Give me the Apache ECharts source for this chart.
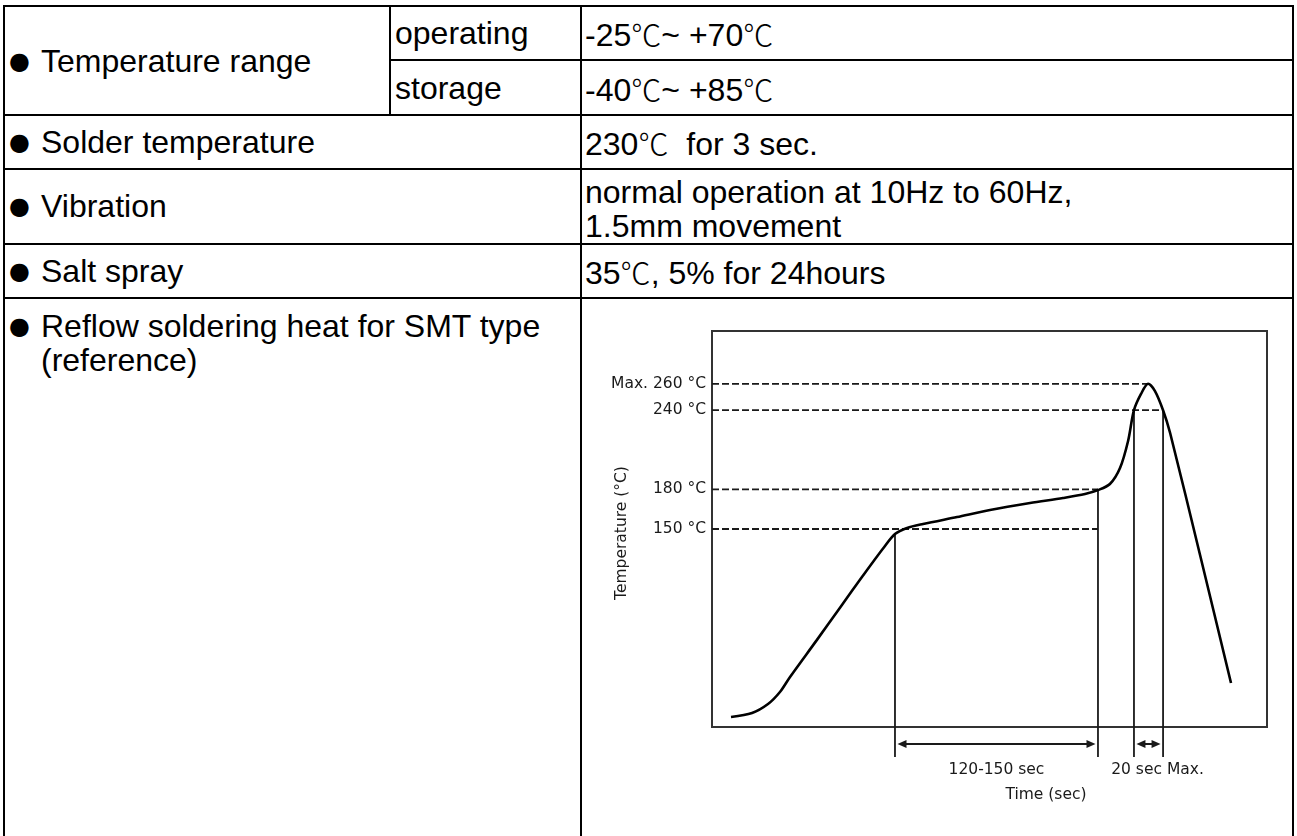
<!DOCTYPE html>
<html>
<head>
<meta charset="utf-8">
<script src="https://cdn.jsdelivr.net/npm/echarts@6.0.0/dist/echarts.min.js"></script>
<style>
html, body { margin: 0; padding: 0; background: #fff; }
#page { position: relative; width: 1297px; height: 836px; overflow: hidden; background: #fff; }
.hl { position: absolute; height: 2px; background: #000; }
.vl { position: absolute; width: 2px; background: #000; }
.t { position: absolute; font-family: "Liberation Sans", Arial, sans-serif; font-size: 32px; line-height: 34px; color: #000; white-space: pre; }
.b { position: absolute; font-family: "DejaVu Sans", sans-serif; font-size: 24px; line-height: 34px; color: #000; }
.cjk { font-family: "Noto Sans CJK SC", sans-serif; font-weight: 300; font-size: 0.94em; }
#chart { position: absolute; left: 0; top: 0; width: 1297px; height: 836px; }
</style>
</head>
<body>
<div id="page"><div id="chart"></div></div>
<script>
// ---------- table content ----------
const rowLabels = ['Temperature range', 'Solder temperature', 'Vibration', 'Salt spray', 'Reflow soldering heat for SMT type'];
const tempSubLabels = ['operating', 'storage'];
const tempRanges = ['-25℃~ +70℃', '-40℃~ +85℃'];
const solderSpec = ['230℃  for 3 sec.'];
const vibrationSpec = ['normal operation at 10Hz to 60Hz,', '1.5mm movement'];
const saltSpec = ['35℃, 5% for 24hours'];
const reflowNote = '(reference)';

// ---------- chart data ----------
const profileTime = [11.3, 23.8, 33.3, 40.4, 46.4, 62.4, 76.1, 89.8, 101.7, 108.8, 116, 125.5, 145.7, 165.3, 189.1, 208.7, 221.8, 229.5, 236.6, 242.6, 247.4, 250.9, 255.1, 259.3, 263.4, 268.2, 272.4, 290.2, 308.6];
const profileTemp = [7.6, 10.6, 17.4, 26.5, 37.9, 66.0, 90.4, 114.7, 135.2, 146.2, 150.8, 153.8, 159.1, 164.4, 169.7, 173.5, 176.5, 179.5, 184.1, 196.2, 216.7, 240, 252.3, 260, 254.5, 240, 222.7, 130.3, 33.3];
const levelTemps = [260, 240, 180, 150];
const levelLabels = ['Max. 260 °C', '240 °C', '180 °C', '150 °C'];
const levelEndTimes = [259.3, 268.2, 229.5, 229.5];
const markerTimes = [108.8, 229.5, 250.9, 268.2];
const markerTopTemps = [147, 179.5, 240, 240];
const spanStarts = [108.8, 250.9];
const spanEnds = [229.5, 268.2];
const spanLabels = ['120-150 sec', '20 sec Max.'];
const xAxisTitle = 'Time (sec)';
const yAxisTitle = 'Temperature (°C)';
const xMin = 0, xMax = 330, yMin = 0, yMax = 300;

// ---------- table layout ----------
const page = document.getElementById('page');
function esc(s) { return s.replace(/&/g, '&amp;').replace(/</g, '&lt;'); }
function addText(txt, left, cy, cls) {
  const d = document.createElement('div');
  d.className = cls || 't';
  d.style.left = left + 'px';
  d.style.top = (cy - 17) + 'px';
  d.innerHTML = esc(txt).replace(/℃/g, '<span class="cjk">℃</span>');
  page.insertBefore(d, page.firstChild);
}
function hLine(y, x1, x2) {
  const d = document.createElement('div'); d.className = 'hl';
  d.style.top = (y - 1) + 'px'; d.style.left = (x1 - 1) + 'px'; d.style.width = (x2 - x1 + 2) + 'px';
  page.insertBefore(d, page.firstChild);
}
function vLine(x, y1, y2) {
  const d = document.createElement('div'); d.className = 'vl';
  d.style.left = (x - 1) + 'px'; d.style.top = (y1 - 1) + 'px'; d.style.height = (y2 - y1 + 2) + 'px';
  page.insertBefore(d, page.firstChild);
}
const X0 = 4, X1 = 390, X2 = 581, X3 = 1293;
const R = [6, 60, 115, 169, 244, 298, 840];
hLine(R[0], X0, X3); hLine(R[1], X1, X3);
for (let i = 2; i < 6; i++) hLine(R[i], X0, X3);
vLine(X0, R[0], R[6]); vLine(X3, R[0], R[6]); vLine(X2, R[0], R[6]); vLine(X1, R[0], R[2]);

const bulletX = 9, labelX = 41, subX = 395, valX = 585;
const labelY = [61, 142, 206, 271, 326];
rowLabels.forEach((s, i) => { addText('●', bulletX, labelY[i], 'b'); addText(s, labelX, labelY[i]); });
addText(reflowNote, labelX, 360);
tempSubLabels.forEach((s, i) => addText(s, subX, [33, 88][i]));
tempRanges.forEach((s, i) => addText(s, valX, [33, 88][i]));
addText(solderSpec[0], valX, 142);
vibrationSpec.forEach((s, i) => addText(s, valX, [192, 226][i]));
addText(saltSpec[0], valX, 271);

// ---------- chart ----------
const ink = '#1a1a1a';
const fontFamily = '"DejaVu Sans", Verdana, sans-serif';
const fontSize = 15.5;
function txt(text, x, y, align, vAlign) {
  return { type: 'text', style: { text: text, x: x, y: y, fill: ink, fontSize: fontSize, fontFamily: fontFamily,
    align: align, textAlign: align, verticalAlign: vAlign, textVerticalAlign: vAlign } };
}
const chart = echarts.init(document.getElementById('chart'), null, { renderer: 'canvas' });
const hiddenAxis = { type: 'value', axisLine: { show: false }, axisTick: { show: false }, axisLabel: { show: false }, splitLine: { show: false } };
chart.setOption({
  animation: false,
  backgroundColor: 'transparent',
  grid: { left: 712, top: 331, width: 555, height: 396, show: true, borderColor: '#333', borderWidth: 2,
          backgroundColor: 'transparent', containLabel: false, outerBoundsMode: 'none' },
  xAxis: Object.assign({ min: xMin, max: xMax }, hiddenAxis),
  yAxis: Object.assign({ min: yMin, max: yMax }, hiddenAxis),
  graphic: [
    { type: 'text', x: 1046, y: 795, silent: true,
      style: { text: xAxisTitle, fill: ink, fontSize: fontSize, fontFamily: fontFamily, align: 'center', textAlign: 'center', verticalAlign: 'middle', textVerticalAlign: 'middle' } },
    { type: 'text', x: 622, y: 533, rotation: Math.PI / 2, silent: true,
      style: { text: yAxisTitle, fill: ink, fontSize: fontSize, fontFamily: fontFamily, align: 'center', textAlign: 'center', verticalAlign: 'middle', textVerticalAlign: 'middle' } }
  ],
  series: [
    {
      type: 'custom', clip: false, silent: true, z: 3,
      data: levelTemps.map((T, i) => [levelEndTimes[i], T, i]),
      encode: { x: 0, y: 1 },
      renderItem: function (params, api) {
        const T = api.value(1), i = api.value(2);
        const p0 = api.coord([xMin, T]);
        const p1 = api.coord([api.value(0), T]);
        return { type: 'group', children: [
          { type: 'line', shape: { x1: p0[0], y1: p0[1], x2: p1[0], y2: p1[1] },
            style: { stroke: ink, lineWidth: 1.8, lineDash: [7, 3] } },
          txt(levelLabels[i], p0[0] - 6, p0[1], 'right', 'middle')
        ] };
      }
    },
    {
      type: 'custom', clip: false, silent: true, z: 3,
      data: markerTimes.map((t, i) => [t, markerTopTemps[i]]),
      encode: { x: 0, y: 1 },
      renderItem: function (params, api) {
        const top = api.coord([api.value(0), api.value(1)]);
        const base = api.coord([api.value(0), yMin]);
        return { type: 'line', shape: { x1: top[0], y1: top[1], x2: top[0], y2: base[1] + 30 },
                 style: { stroke: ink, lineWidth: 1.8 } };
      }
    },
    {
      type: 'custom', clip: false, silent: true, z: 3,
      data: spanStarts.map((s, i) => [s, yMin, spanEnds[i], i]),
      encode: { x: 0, y: 1 },
      renderItem: function (params, api) {
        const i = api.value(3);
        const a = api.coord([api.value(0), yMin]);
        const b = api.coord([api.value(2), yMin]);
        const y = a[1] + 17, xa = a[0] + 2.5, xb = b[0] - 2.5, hl = 9, hw = 4;
        const cx = (a[0] + b[0]) / 2 + (i === 1 ? 9 : 0);
        return { type: 'group', children: [
          { type: 'line', shape: { x1: xa + 4, y1: y, x2: xb - 4, y2: y }, style: { stroke: ink, lineWidth: 2 } },
          { type: 'polygon', shape: { points: [[xa, y], [xa + hl, y - hw], [xa + hl, y + hw]] }, style: { fill: ink } },
          { type: 'polygon', shape: { points: [[xb, y], [xb - hl, y - hw], [xb - hl, y + hw]] }, style: { fill: ink } },
          txt(spanLabels[i], cx, a[1] + 43, 'center', 'middle')
        ] };
      }
    },
    {
      type: 'line', z: 5, silent: true,
      data: profileTime.map((t, i) => [t, profileTemp[i]]),
      smooth: 0.3, symbol: 'none',
      lineStyle: { color: '#000', width: 2.6 }
    }
  ]
});
</script>
</body>
</html>
